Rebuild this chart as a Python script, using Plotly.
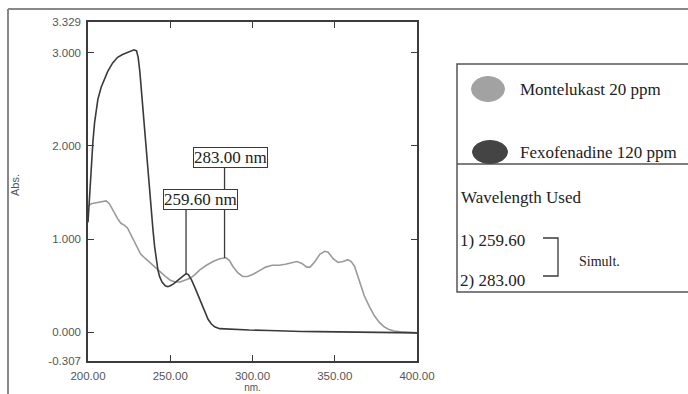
import numpy as np
import plotly.graph_objects as go

# ---------------- data ----------------
series_names = ["Montelukast 20 ppm", "Fexofenadine 120 ppm"]

monte_nm = [200, 202, 205, 208, 211, 213, 216, 218, 220, 222, 224, 226, 228, 230, 232, 235, 238, 241, 244,
            247, 250, 253, 256, 259, 262, 265, 268, 272, 276, 280, 284, 286, 288, 291, 294, 297, 300, 304,
            308, 312, 316, 320, 324, 327, 330, 333, 335, 338, 341, 344, 346, 349, 352, 355, 358, 360, 362,
            364, 366, 368, 371, 374, 377, 380, 383, 386, 390, 395, 400]
monte_abs = [1.35, 1.38, 1.39, 1.40, 1.41, 1.38, 1.28, 1.22, 1.17, 1.15, 1.12, 1.05, 0.97, 0.90, 0.84, 0.79,
             0.74, 0.70, 0.65, 0.60, 0.56, 0.54, 0.54, 0.56, 0.58, 0.62, 0.67, 0.72, 0.76, 0.79, 0.80, 0.77,
             0.71, 0.64, 0.60, 0.60, 0.62, 0.66, 0.70, 0.72, 0.72, 0.73, 0.75, 0.76, 0.74, 0.70, 0.70, 0.76,
             0.84, 0.87, 0.86, 0.79, 0.75, 0.76, 0.78, 0.76, 0.71, 0.60, 0.49, 0.39, 0.28, 0.18, 0.11, 0.06,
             0.03, 0.015, 0.005, 0.0, -0.005]

fexo_nm = [200, 201, 202, 203, 204, 205, 206, 208, 210, 212, 215, 218, 221, 224, 226, 228, 229.5, 230.5,
           231.5, 232.5, 233.5, 234.5, 235.5, 236.5, 237.5, 238.5, 239.5, 240.5, 241.5, 242.5, 243.5, 245,
           247, 248.5, 250, 252, 254, 256, 258, 259.6, 261, 263, 265, 267, 269, 271, 273, 275, 277, 280,
           285, 290, 298, 310, 320, 330, 340, 350, 370, 385, 400]
fexo_abs = [1.18, 1.50, 1.82, 2.05, 2.25, 2.40, 2.50, 2.63, 2.72, 2.80, 2.89, 2.95, 2.98, 3.00, 3.01, 3.03,
            3.02, 2.95, 2.80, 2.58, 2.35, 2.13, 1.92, 1.72, 1.50, 1.30, 1.10, 0.92, 0.78, 0.67, 0.60, 0.54,
            0.50, 0.49, 0.50, 0.52, 0.55, 0.58, 0.61, 0.63, 0.62, 0.56, 0.48, 0.39, 0.30, 0.22, 0.14, 0.09,
            0.06, 0.04, 0.035, 0.03, 0.025, 0.02, 0.012, 0.01, 0.008, 0.005, 0.002, 0.0, -0.005]

x_ticks = [200, 250, 300, 350, 400]
x_ticklabels = ["200.00", "250.00", "300.00", "350.00", "400.00"]
y_ticks = [-0.307, 0, 1, 2, 3, 3.329]
y_ticklabels = ["-0.307", "0.000", "1.000", "2.000", "3.000", "3.329"]

wavelengths_used = [259.60, 283.00]
marked_series = [fexo_abs, monte_abs]   # curve on which each marker line ends
marked_nm = [fexo_nm, monte_nm]

# ---------------- styling ----------------
GREY = "#9a9a9a"
DARK = "#3a3a3a"
AXIS = "#3c3c3c"
SERIF = "Liberation Serif, Times New Roman, serif"
SANS = "Liberation Sans, Arial, sans-serif"

W, H = 688, 394
L, T, PW, PH = 88, 22, 329, 339


def px(xp):
    return (xp - L) / PW


def py(yp):
    return (T + PH - yp) / PH


fig = go.Figure()
fig.add_trace(go.Scatter(x=monte_nm, y=monte_abs, mode="lines", name=series_names[0],
                         line=dict(color=GREY, width=1.6), showlegend=False))
fig.add_trace(go.Scatter(x=fexo_nm, y=fexo_abs, mode="lines", name=series_names[1],
                         line=dict(color=DARK, width=1.6), showlegend=False))

axis_common = dict(showgrid=False, zeroline=False, showline=True, linecolor=AXIS, linewidth=1.5,
                   ticks="inside", ticklen=6, tickwidth=1.2, tickcolor=AXIS, mirror="allticks",
                   tickfont=dict(family=SANS, size=11.5, color="#555555"))

fig.update_layout(
    width=W, height=H, autosize=False,
    margin=dict(l=L, r=W - L - PW, t=T, b=H - T - PH, autoexpand=False),
    paper_bgcolor="white", plot_bgcolor="white",
    xaxis=dict(range=[200, 400], tickvals=x_ticks, ticktext=x_ticklabels, ticklabelstandoff=3,
               **axis_common,
               title=dict(text="nm.", font=dict(family=SANS, size=10, color="#555555"), standoff=1)),
    yaxis=dict(range=[-0.307, 3.329], tickvals=y_ticks, ticktext=y_ticklabels, ticklabelstandoff=3,
               **axis_common),
)

annotations = []
shapes = []

# wavelength markers
offsets = [(65, 14), (91, 6)]  # (line length px, box x-shift px)
for w, ser_nm, ser, (dy, dx) in zip(wavelengths_used, marked_nm, marked_series, offsets):
    v = float(np.interp(w, ser_nm, ser))
    shapes.append(dict(type="line", xref="x", yref="y", x0=w, x1=w, ysizemode="pixel", yanchor=v,
                       y0=0, y1=dy, line=dict(color=DARK, width=1.3)))
    annotations.append(dict(x=w, y=v, xref="x", yref="y", showarrow=False, text=f"{w:.2f} nm",
                            yanchor="bottom", xanchor="center", yshift=dy - 1, xshift=dx,
                            font=dict(family=SERIF, size=17, color="#222222"),
                            bordercolor=DARK, borderwidth=1, borderpad=0, bgcolor="white"))

# y-axis label
annotations.append(dict(x=px(15), y=py(185), xref="paper", yref="paper", text="Abs.", textangle=-90,
                        xanchor="center", yanchor="middle",
                        showarrow=False, font=dict(family=SANS, size=11, color="#555555")))

# outer frame
shapes.append(dict(type="line", xref="paper", yref="paper", x0=px(8), x1=px(700), y0=py(9), y1=py(9),
                   line=dict(color="#888888", width=2)))
shapes.append(dict(type="line", xref="paper", yref="paper", x0=px(8), x1=px(8), y0=py(9), y1=py(400),
                   line=dict(color="#888888", width=2)))

# legend panel
shapes.append(dict(type="rect", xref="paper", yref="paper", x0=px(457), x1=px(700), y0=py(64), y1=py(292),
                   line=dict(color="#555555", width=1.5), fillcolor="rgba(0,0,0,0)"))
shapes.append(dict(type="line", xref="paper", yref="paper", x0=px(457), x1=px(700), y0=py(164), y1=py(164),
                   line=dict(color="#555555", width=1.5)))
legend_rows = [(488, 89, 16.5, 12.5, "#a2a2a2"), (490, 152, 17.5, 11.5, "#444444")]
for name, (cx, cy, rx, ry, col) in zip(series_names, legend_rows):
    shapes.append(dict(type="circle", xref="paper", yref="paper", x0=px(cx - rx), x1=px(cx + rx),
                       y0=py(cy + ry), y1=py(cy - ry), fillcolor=col, line=dict(color=col, width=1)))
    annotations.append(dict(x=px(518), y=py(cy), xref="paper", yref="paper", text=name, showarrow=False,
                            xanchor="left", yanchor="middle",
                            font=dict(family=SERIF, size=17, color="#222222")))

annotations.append(dict(x=px(459), y=py(197), xref="paper", yref="paper", text="Wavelength Used",
                        showarrow=False, xanchor="left", yanchor="middle",
                        font=dict(family=SERIF, size=17, color="#222222")))
for i, (w, yy) in enumerate(zip(wavelengths_used, [240, 280])):
    annotations.append(dict(x=px(458), y=py(yy), xref="paper", yref="paper", text=f"{i + 1}) {w:.2f}",
                            showarrow=False, xanchor="left", yanchor="middle",
                            font=dict(family=SERIF, size=17, color="#222222")))
shapes.append(dict(type="path", xref="paper", yref="paper",
                   path=f"M {px(543)} {py(238)} L {px(558)} {py(238)} L {px(558)} {py(276)} L {px(543)} {py(276)}",
                   line=dict(color=DARK, width=1.3)))
annotations.append(dict(x=px(577), y=py(261), xref="paper", yref="paper", text="Simult.", showarrow=False,
                        xanchor="left", yanchor="middle", font=dict(family=SERIF, size=14, color="#222222")))

fig.update_layout(annotations=annotations, shapes=shapes)
fig.write_html("out.html", config={"displayModeBar": False},
               post_script="document.body.style.margin='0';document.body.style.overflow='hidden';")
